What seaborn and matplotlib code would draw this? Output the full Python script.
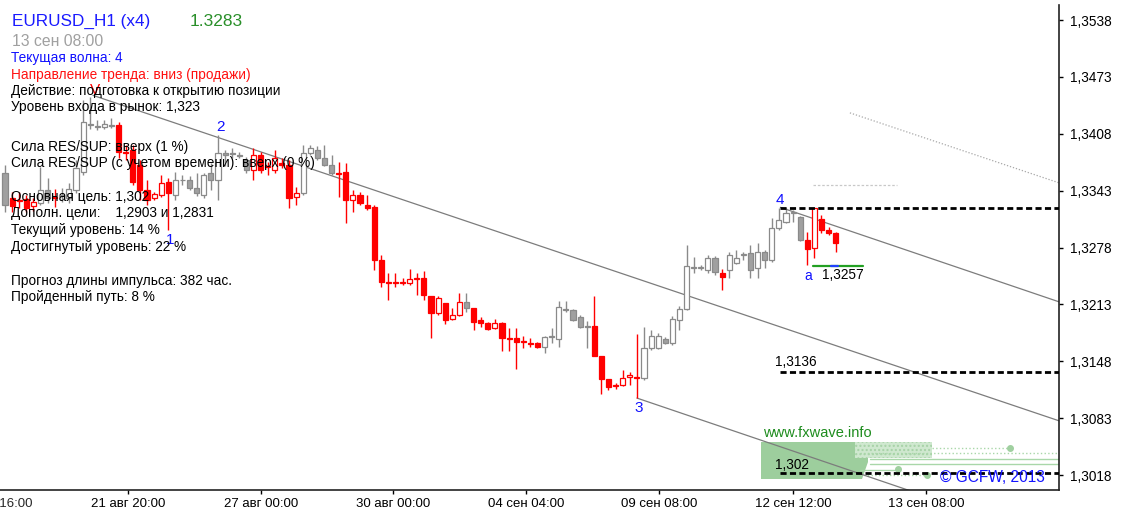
import numpy as np
import pandas as pd
import matplotlib
matplotlib.use("Agg")
import matplotlib.pyplot as plt
from matplotlib.transforms import Affine2D, blended_transform_factory
from matplotlib.patches import Rectangle, Polygon
import seaborn as sns

# ---------------- data (EURUSD H1 x4, one bar = 4 hours) ----------------
opens = [
    1.3363, 1.3335, 1.3332, 1.3333, 1.3325, 1.3329, 1.3344, 1.3336, 1.3337, 1.3335,
    1.3344, 1.3364, 1.3419, 1.3417, 1.3416, 1.3418, 1.3418, 1.3387, 1.3390, 1.3372,
    1.3344, 1.3335, 1.3338, 1.3353, 1.3338, 1.3355, 1.3355, 1.3346, 1.3338, 1.3363,
    1.3355, 1.3386, 1.3386, 1.3384, 1.3378, 1.3367, 1.3384, 1.3371, 1.3367, 1.3375,
    1.3372, 1.3336, 1.3340, 1.3386, 1.3390, 1.3380, 1.3372, 1.3363, 1.3364, 1.3332,
    1.3338, 1.3327, 1.3324, 1.3264, 1.3239, 1.3239, 1.3239, 1.3238, 1.3243, 1.3243,
    1.3223, 1.3203, 1.3215, 1.3196, 1.3201, 1.3216, 1.3209, 1.3195, 1.3192, 1.3186,
    1.3192, 1.3175, 1.3175, 1.3171, 1.3169, 1.3169, 1.3164, 1.3176, 1.3174, 1.3208,
    1.3207, 1.3199, 1.3188, 1.3188, 1.3154, 1.3128, 1.3121, 1.3121, 1.3130, 1.3130,
    1.3129, 1.3163, 1.3163, 1.3174, 1.3169, 1.3195, 1.3208, 1.3256, 1.3255, 1.3252,
    1.3266, 1.3249, 1.3252, 1.3260, 1.3270, 1.3272, 1.3255, 1.3273, 1.3264, 1.3300,
    1.3307, 1.3318, 1.3313, 1.3287, 1.3278, 1.3311, 1.3298, 1.3295]
highs = [
    1.3372, 1.3342, 1.3342, 1.3338, 1.3335, 1.3370, 1.3358, 1.3345, 1.3346, 1.3352,
    1.3378, 1.3447, 1.3450, 1.3424, 1.3424, 1.3426, 1.3422, 1.3395, 1.3395, 1.3378,
    1.3355, 1.3342, 1.3361, 1.3358, 1.3364, 1.3361, 1.3360, 1.3363, 1.3363, 1.3375,
    1.3407, 1.3390, 1.3392, 1.3387, 1.3382, 1.3392, 1.3387, 1.3376, 1.3390, 1.3380,
    1.3378, 1.3347, 1.3395, 1.3395, 1.3394, 1.3395, 1.3384, 1.3376, 1.3375, 1.3344,
    1.3342, 1.3338, 1.3327, 1.3270, 1.3249, 1.3249, 1.3243, 1.3254, 1.3249, 1.3251,
    1.3223, 1.3223, 1.3215, 1.3209, 1.3226, 1.3226, 1.3209, 1.3199, 1.3193, 1.3196,
    1.3193, 1.3186, 1.3186, 1.3177, 1.3175, 1.3170, 1.3177, 1.3186, 1.3217, 1.3217,
    1.3208, 1.3201, 1.3194, 1.3223, 1.3154, 1.3128, 1.3123, 1.3138, 1.3136, 1.3179,
    1.3187, 1.3184, 1.3180, 1.3176, 1.3200, 1.3211, 1.3281, 1.3267, 1.3258, 1.3270,
    1.3268, 1.3254, 1.3273, 1.3275, 1.3273, 1.3281, 1.3283, 1.3275, 1.3312, 1.3323,
    1.3323, 1.3321, 1.3314, 1.3296, 1.3323, 1.3315, 1.3302, 1.3296]
lows = [
    1.3319, 1.3319, 1.3323, 1.3319, 1.3320, 1.3327, 1.3329, 1.3324, 1.3330, 1.3329,
    1.3340, 1.3361, 1.3414, 1.3412, 1.3414, 1.3415, 1.3380, 1.3378, 1.3350, 1.3332,
    1.3327, 1.3332, 1.3336, 1.3298, 1.3332, 1.3350, 1.3344, 1.3337, 1.3335, 1.3344,
    1.3332, 1.3371, 1.3380, 1.3380, 1.3363, 1.3355, 1.3363, 1.3361, 1.3363, 1.3369,
    1.3323, 1.3327, 1.3338, 1.3384, 1.3378, 1.3371, 1.3361, 1.3336, 1.3306, 1.3319,
    1.3327, 1.3321, 1.3252, 1.3233, 1.3218, 1.3233, 1.3235, 1.3235, 1.3224, 1.3218,
    1.3175, 1.3201, 1.3191, 1.3195, 1.3200, 1.3204, 1.3184, 1.3187, 1.3184, 1.3185,
    1.3160, 1.3160, 1.3139, 1.3163, 1.3164, 1.3163, 1.3158, 1.3169, 1.3164, 1.3204,
    1.3194, 1.3186, 1.3163, 1.3154, 1.3111, 1.3115, 1.3116, 1.3120, 1.3121, 1.3106,
    1.3127, 1.3161, 1.3162, 1.3168, 1.3167, 1.3184, 1.3207, 1.3249, 1.3252, 1.3249,
    1.3247, 1.3230, 1.3243, 1.3259, 1.3264, 1.3243, 1.3243, 1.3255, 1.3262, 1.3298,
    1.3306, 1.3307, 1.3286, 1.3258, 1.3266, 1.3295, 1.3292, 1.3273]
closes = [
    1.3327, 1.3325, 1.3331, 1.3323, 1.3330, 1.3344, 1.3335, 1.3335, 1.3338, 1.3345,
    1.3369, 1.3422, 1.3418, 1.3416, 1.3419, 1.3417, 1.3387, 1.3386, 1.3353, 1.3344,
    1.3332, 1.3339, 1.3352, 1.3340, 1.3355, 1.3355, 1.3346, 1.3340, 1.3361, 1.3355,
    1.3386, 1.3384, 1.3385, 1.3383, 1.3367, 1.3384, 1.3367, 1.3370, 1.3380, 1.3372,
    1.3335, 1.3340, 1.3386, 1.3392, 1.3380, 1.3372, 1.3363, 1.3362, 1.3332, 1.3338,
    1.3329, 1.3323, 1.3264, 1.3239, 1.3238, 1.3238, 1.3238, 1.3242, 1.3242, 1.3224,
    1.3203, 1.3220, 1.3195, 1.3201, 1.3216, 1.3209, 1.3193, 1.3192, 1.3185, 1.3192,
    1.3175, 1.3174, 1.3170, 1.3170, 1.3168, 1.3164, 1.3176, 1.3177, 1.3210, 1.3207,
    1.3195, 1.3187, 1.3187, 1.3154, 1.3128, 1.3119, 1.3120, 1.3129, 1.3132, 1.3129,
    1.3163, 1.3177, 1.3177, 1.3169, 1.3196, 1.3208, 1.3257, 1.3255, 1.3256, 1.3266,
    1.3250, 1.3244, 1.3270, 1.3266, 1.3271, 1.3252, 1.3273, 1.3264, 1.3300, 1.3310,
    1.3318, 1.3319, 1.3287, 1.3276, 1.3323, 1.3298, 1.3295, 1.3283]
# r = red (signal) candles, g = normal grey candles
kinds = ("grrrrggrgg" "ggggggrrrr" "rrrrgggggg" "gggggrrrrr" "rrgggggrrr"
         "rrrrrrrrrr" "rrrrrgrrrr" "rrrrrrgggg" "gggrrrrrrr" "gggggggggg"
         "grgggggggg" "gggrrrrr")

price_ticks = [1.3538, 1.3473, 1.3408, 1.3343, 1.3278, 1.3213, 1.3148, 1.3083, 1.3018]
time_tick_pos = [17.3, 36.1, 54.7, 73.4, 92.1, 111.0, 129.7]
time_tick_labels = ["21 авг 20:00", "27 авг 00:00", "30 авг 00:00", "04 сен 04:00",
                    "09 сен 08:00", "12 сен 12:00", "13 сен 08:00"]
first_time_label, first_time_pos = "19 авг 16:00", -1.4

wave_names = ["1", "2", "3", "4", "a"]
wave_x = [23.2, 30.3, 89.2, 109.2, 113.1]
wave_y = [1.3287, 1.3416, 1.3095, 1.3332, 1.3246]

# channel lines: start (bar, price) -> end (bar, price)
chan_x0 = [12.4, 109.2, 89.0]
chan_y0 = [1.3452, 1.3324, 1.3106]
chan_x1 = [148.45, 148.45, 129.3]
chan_y1 = [1.3080, 1.3216, 1.2995]
dotted_x = [119.0, 148.45]
dotted_y = [1.3432, 1.3352]
ghost_level, ghost_x = 1.3350, [113.8, 125.6]

levels = [1.3323, 1.3136, 1.3020]
levels_x = [109.2, 148.45]
level_labels = ["", "1,3136", "1,302"]
level_label_y = [1.3333, 1.3147, 1.3029]
a_level, a_x = 1.3257, [113.8, 120.9]

last_price = "1.3283"

# ---------------- style ----------------
sns.set_style("white")
plt.rcParams['font.family'] = ['Liberation Sans', 'DejaVu Sans']

W, H = 1126, 522
fig = plt.figure(figsize=(W / 100, H / 100), dpi=100)
fig.patch.set_facecolor("white")
ax = fig.add_axes([0, (H - 490) / H, 1059 / W, 485 / H])
ax.set_facecolor("white")
pix = Affine2D().scale(1.0 / W, -1.0 / H).translate(0, 1) + fig.transFigure

RED, GREY = "#ff0000", "#8a8a8a"

# ---------------- candles ----------------
df = pd.DataFrame({"bar": np.arange(len(opens)), "open": opens, "high": highs,
                   "low": lows, "close": closes, "kind": list(kinds)})
edge = np.where(df["kind"] == "r", RED, GREY)
bull = df["close"] >= df["open"]
face = np.where(bull, "white", np.where(df["kind"] == "r", RED, "#a0a0a0"))
ax.vlines(df["bar"], df["low"], df["high"], colors=edge, linewidth=1.0, zorder=3)
body_lo = np.minimum(df["open"], df["close"])
body_h = np.maximum((df["close"] - df["open"]).abs(), 0.00002)
ax.bar(df["bar"], body_h, bottom=body_lo, width=0.72, color=face,
       edgecolor=edge, linewidth=0.9, zorder=4)

# ---------------- channel / trend lines ----------------
for x0, y0, x1, y1 in zip(chan_x0, chan_y0, chan_x1, chan_y1):
    sns.lineplot(x=[x0, x1], y=[y0, y1], ax=ax, color="#7c7c7c", linewidth=0.9, zorder=2)
sns.lineplot(x=dotted_x, y=dotted_y, ax=ax, color="#a8a8a8", linewidth=0.9,
             linestyle=(0, (1, 1.5)), zorder=2)
ax.plot(ghost_x, [ghost_level, ghost_level], color="#c8c8c8", linewidth=0.9,
        linestyle=(0, (2, 1.5)), zorder=2)

# level lines
for lv, lab, ly in zip(levels, level_labels, level_label_y):
    ax.plot(levels_x, [lv, lv], color="black", linewidth=2.0, dashes=(2.2, 1.2), zorder=6)
    if lab:
        ax.text(levels_x[0] - 0.7, ly, lab, fontsize=9.8, color="black",
                ha="left", va="center", zorder=8)
ax.plot(a_x, [a_level, a_level], color="#22a022", linewidth=1.6, zorder=6)
ax.plot([116.4, 117.3], [a_level, a_level], color="#2040ff", linewidth=1.6, zorder=7)
ax.text(115.1, 1.3247, "1,3257", fontsize=9.8, color="black", ha="left", va="center", zorder=8)

# wave marks
for nm, wx, wy in zip(wave_names, wave_x, wave_y):
    ax.text(wx, wy, nm, color="#1010ff", fontsize=11 if nm != "a" else 10,
            ha="center", va="center", zorder=8)
ax.text(12.7, 1.3458, "V", color=RED, fontsize=11, ha="center", va="center", zorder=8)

# ---------------- watermark box ----------------
wm = "#9dce9d"
ax.add_patch(Polygon([(761, 442), (868, 442), (868, 462), (862, 479), (761, 479)],
                     closed=True, transform=pix, facecolor=wm, edgecolor="none", zorder=1))
ax.add_patch(Rectangle((855, 442), 77, 16, transform=pix, facecolor="#cfe8cf",
                       edgecolor="#a6d2a6", hatch="....", linewidth=0, zorder=1.2))
lg = "#a9d7a9"
for (xa, xb, yy, ls) in [(932, 1010, 448, ":"), (860, 1059, 453, ":"),
                         (870, 1059, 459, "-"), (870, 1059, 464, "-"),
                         (860, 898, 470, "-"), (860, 927, 475, ":")]:
    ax.plot([xa, xb], [yy, yy], transform=pix, color=lg, linewidth=1, linestyle=ls, zorder=1.3)
for (xd, yd) in [(1010, 448), (898, 469), (927, 475)]:
    ax.plot([xd], [yd], "o", transform=pix, color="#a0d0a0", markersize=4, zorder=1.3)
fig.text(763, 433, "www.fxwave.info", transform=pix, color="#1e8c1e", fontsize=10.5,
         ha="left", va="center")
fig.text(940, 477, "© GCFW, 2013", transform=pix, color="#1414ff", fontsize=11.2,
         ha="left", va="center")

# ---------------- axes ----------------
ax.set_xlim(-0.70, 148.45)
ax.set_ylim(1.30009, 1.35553)
ax.yaxis.tick_right()
ax.set_yticks(price_ticks)
ax.set_yticklabels([f"{v:.4f}".replace(".", ",") for v in price_ticks])
ax.set_xticks(time_tick_pos)
ax.set_xticklabels(time_tick_labels)
ax.tick_params(axis="y", right=True, left=False, length=3, width=1, pad=5,
               labelsize=9.8, colors="black", direction="out")
ax.tick_params(axis="x", bottom=True, length=3, width=1, pad=3,
               labelsize=9.5, colors="black", direction="out")
ax.set_xlabel("")
ax.set_ylabel("")
for side in ["left", "top"]:
    ax.spines[side].set_visible(False)
for side in ["right", "bottom"]:
    ax.spines[side].set_visible(True)
    ax.spines[side].set_color("#222222")
    ax.spines[side].set_linewidth(1.2)
ax.grid(False)
bt = blended_transform_factory(ax.transData, pix)
ax.text(first_time_pos, 498, first_time_label, transform=bt, fontsize=9.5,
        ha="center", va="top", clip_on=False)

# ---------------- info panel ----------------
fig.text(12, 21, "EURUSD_H1 (x4)", transform=pix, color="#1a1aff", fontsize=12.3,
         ha="left", va="center")
fig.text(190, 21, last_price, transform=pix, color="#2a8f2a", fontsize=12.5,
         ha="left", va="center")
fig.text(12, 42, "13 сен 08:00", transform=pix, color="#a0a0a0", fontsize=11.3,
         ha="left", va="center")
info = [
    (58, "Текущая волна: 4", "#1010ff"),
    (75, "Направление тренда: вниз (продажи)", "#ff1010"),
    (91, "Действие: подготовка к открытию позиции", "black"),
    (107, "Уровень входа в рынок: 1,323", "black"),
    (147, "Сила RES/SUP: вверх (1 %)", "black"),
    (163, "Сила RES/SUP (с учетом времени): вверх (0 %)", "black"),
    (197, "Основная цель: 1,302", "black"),
    (213, "Дополн. цели:    1,2903 и 1,2831", "black"),
    (230, "Текущий уровень: 14 %", "black"),
    (247, "Достигнутый уровень: 22 %", "black"),
    (281, "Прогноз длины импульса: 382 час.", "black"),
    (297, "Пройденный путь: 8 %", "black"),
]
for yy, txt, col in info:
    fig.text(11, yy, txt, transform=pix, color=col, fontsize=9.8, ha="left", va="center")

fig.savefig("out.png", dpi=100, facecolor="white")
